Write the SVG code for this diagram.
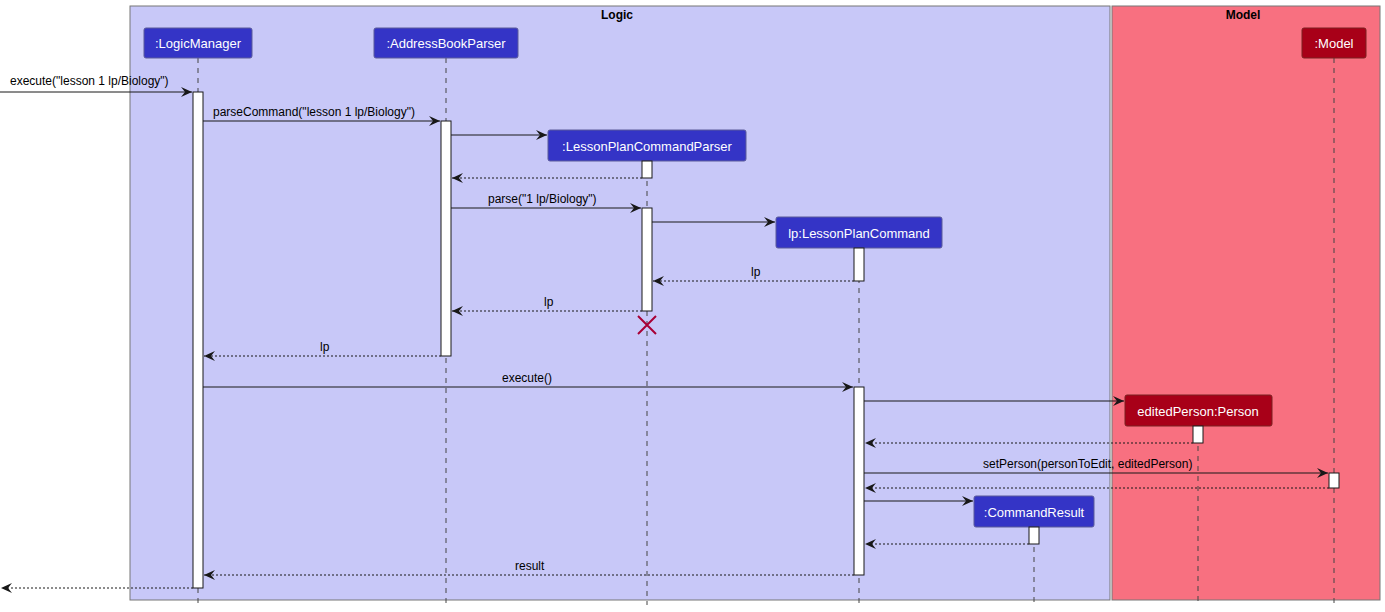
<svg xmlns="http://www.w3.org/2000/svg" width="1385" height="612" viewBox="0 0 1385 612">
<style>
text{font-family:"Liberation Sans",Arial,sans-serif;font-size:12px;fill:#000}
.pt{fill:#fff;font-size:13px;text-anchor:middle}
.bt{font-weight:bold;text-anchor:middle}
.ll{stroke:#444;stroke-width:1;stroke-dasharray:5,5}
.act{fill:#fff;stroke:#181818;stroke-width:1}
.m{stroke:#181818;stroke-width:1;fill:none;marker-end:url(#a)}
.r{stroke:#181818;stroke-width:1;fill:none;stroke-dasharray:2,2;marker-end:url(#a)}
.pb{fill:#3434C6;stroke:#5a5a9a}
.pr{fill:#A80018;stroke:#7a2020}
</style>
<defs><marker id="a" markerWidth="12" markerHeight="10" refX="11" refY="5" orient="auto" markerUnits="userSpaceOnUse"><path d="M0,0 L11,5 L0,10 L4,5 Z" fill="#181818"/></marker></defs>
<g id="boxes">
<rect x="130" y="6" width="980" height="594" fill="#C8C8F8" stroke="#777"/>
<text x="617" y="19" class="bt">Logic</text>
<rect x="1112" y="6" width="268" height="594" fill="#F87080" stroke="#777"/>
<text x="1243" y="19" class="bt">Model</text>
</g>
<g id="lifelines">
<line x1="198" y1="58" x2="198" y2="605" class="ll"/>
<line x1="446" y1="58" x2="446" y2="605" class="ll"/>
<line x1="647" y1="161" x2="647" y2="605" class="ll"/>
<line x1="859" y1="248" x2="859" y2="605" class="ll"/>
<line x1="1198" y1="426" x2="1198" y2="605" class="ll"/>
<line x1="1334" y1="58" x2="1334" y2="605" class="ll"/>
<line x1="1034" y1="527" x2="1034" y2="605" class="ll"/>
</g>
<g id="LogicManager"><rect x="144" y="28" width="108" height="30" rx="2" class="pb"/><text x="198" y="48" class="pt">:LogicManager</text><rect x="193" y="92" width="10" height="496" class="act"/></g>
<g id="AddressBookParser"><rect x="374" y="28" width="144" height="30" rx="2" class="pb"/><text x="446" y="48" class="pt">:AddressBookParser</text><rect x="441" y="121" width="10" height="235" class="act"/></g>
<g id="LessonPlanCommandParser"><rect x="548" y="130" width="198" height="31" rx="2" class="pb"/><text x="647" y="151" class="pt">:LessonPlanCommandParser</text><rect x="642" y="161" width="10" height="17" class="act"/><rect x="642" y="208" width="10" height="103" class="act"/>
<path d="M638,316 L656,334 M656,316 L638,334" stroke="#A80036" stroke-width="2"/></g>
<g id="LessonPlanCommand"><rect x="776" y="217" width="166" height="31" rx="2" class="pb"/><text x="859" y="238" class="pt">lp:LessonPlanCommand</text><rect x="854" y="248" width="10" height="33" class="act"/><rect x="854" y="387" width="10" height="188" class="act"/></g>
<g id="Person"><rect x="1125" y="395" width="147" height="31" rx="2" class="pr"/><text x="1198" y="416" class="pt">editedPerson:Person</text><rect x="1193" y="426" width="10" height="17" class="act"/></g>
<g id="Model"><rect x="1302" y="28" width="64" height="30" rx="2" class="pr"/><text x="1334" y="48" class="pt">:Model</text><rect x="1329" y="473" width="10" height="15" class="act"/></g>
<g id="CommandResult"><rect x="974" y="496" width="120" height="31" rx="2" class="pb"/><text x="1034" y="517" class="pt">:CommandResult</text><rect x="1029" y="527" width="10" height="17" class="act"/></g>
<g id="connectors">
<line x1="0" y1="92" x2="192" y2="92" class="m"/><text x="10" y="85">execute("lesson 1 lp/Biology")</text>
<line x1="203" y1="121" x2="440" y2="121" class="m"/><text x="213" y="116">parseCommand("lesson 1 lp/Biology")</text>
<line x1="451" y1="135" x2="547" y2="135" class="m"/>
<line x1="642" y1="178" x2="452" y2="178" class="r"/>
<line x1="451" y1="208" x2="641" y2="208" class="m"/><text x="488" y="203">parse("1 lp/Biology")</text>
<line x1="652" y1="222" x2="775" y2="222" class="m"/>
<line x1="854" y1="281" x2="653" y2="281" class="r"/><text x="751" y="276">lp</text>
<line x1="642" y1="311" x2="452" y2="311" class="r"/><text x="544" y="306">lp</text>
<line x1="441" y1="356" x2="204" y2="356" class="r"/><text x="320" y="351">lp</text>
<line x1="203" y1="387" x2="853" y2="387" class="m"/><text x="502" y="382">execute()</text>
<line x1="864" y1="401" x2="1124" y2="401" class="m"/>
<line x1="1193" y1="443" x2="865" y2="443" class="r"/>
<line x1="864" y1="473" x2="1328" y2="473" class="m"/><text x="983" y="468">setPerson(personToEdit, editedPerson)</text>
<line x1="1329" y1="488" x2="865" y2="488" class="r"/>
<line x1="864" y1="501" x2="973" y2="501" class="m"/>
<line x1="1029" y1="544" x2="865" y2="544" class="r"/>
<line x1="854" y1="575" x2="204" y2="575" class="r"/><text x="515" y="570">result</text>
<line x1="193" y1="588" x2="1" y2="588" class="r"/>
</g>
</svg>
